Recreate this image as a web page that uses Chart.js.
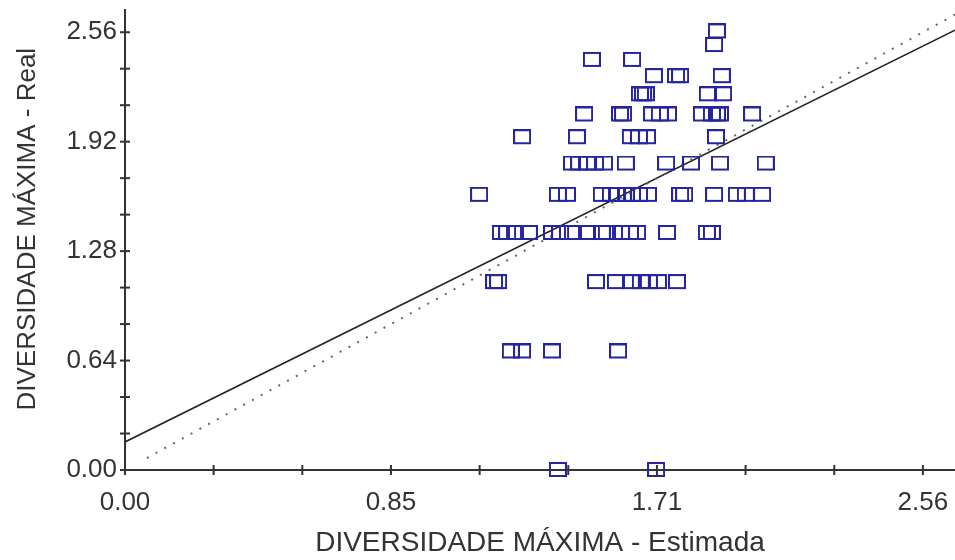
<!DOCTYPE html>
<html>
<head>
<meta charset="utf-8">
<script src="https://cdn.jsdelivr.net/npm/chart.js@4.4.1/dist/chart.umd.min.js"></script>
<style>
  html, body { margin: 0; padding: 0; background: #fff; overflow: hidden; }
  canvas { display: block; }
</style>
</head>
<body>
<canvas id="chart" width="955" height="560"></canvas>
<script>
// observed values: estimated (x) vs real (y) maximum diversity
const estimada = [
  1.899,
  1.890,
  1.498, 1.627,
  1.697, 1.768, 1.781, 1.915,
  1.652, 1.662, 1.671, 1.870, 1.919,
  1.473, 1.588, 1.598, 1.691, 1.716, 1.742, 1.851, 1.883, 1.899, 1.909, 2.012,
  1.274, 1.450, 1.623, 1.649, 1.675, 1.896,
  1.434, 1.457, 1.482, 1.508, 1.537, 1.607, 1.736, 1.816, 1.909, 2.056,
  1.136, 1.389, 1.418, 1.530, 1.559, 1.578, 1.607, 1.627, 1.649, 1.678, 1.781, 1.794, 1.890, 1.963, 1.992, 2.044,
  1.206, 1.226, 1.251, 1.296, 1.370, 1.396, 1.437, 1.482, 1.530, 1.546, 1.591, 1.620, 1.643, 1.739, 1.867, 1.883,
  1.184, 1.197, 1.511, 1.575, 1.623, 1.655, 1.681, 1.710, 1.771,
  1.238, 1.274, 1.370, 1.582,
  1.389, 1.704
];
const real = [
  2.565,
  2.485,
  2.398, 2.398,
  2.303, 2.303, 2.303, 2.303,
  2.197, 2.197, 2.197, 2.197, 2.197,
  2.079, 2.079, 2.079, 2.079, 2.079, 2.079, 2.079, 2.079, 2.079, 2.079, 2.079,
  1.946, 1.946, 1.946, 1.946, 1.946, 1.946,
  1.792, 1.792, 1.792, 1.792, 1.792, 1.792, 1.792, 1.792, 1.792, 1.792,
  1.609, 1.609, 1.609, 1.609, 1.609, 1.609, 1.609, 1.609, 1.609, 1.609, 1.609, 1.609, 1.609, 1.609, 1.609, 1.609,
  1.386, 1.386, 1.386, 1.386, 1.386, 1.386, 1.386, 1.386, 1.386, 1.386, 1.386, 1.386, 1.386, 1.386, 1.386, 1.386,
  1.099, 1.099, 1.099, 1.099, 1.099, 1.099, 1.099, 1.099, 1.099,
  0.693, 0.693, 0.693, 0.693,
  0, 0
];

// fitted regression line and 1:1 line (end points)
const fitX = [0, 2.663];
const fitY = [0.164, 2.572];
const diagX = [0.07, 2.663];
const diagY = [0.07, 2.663];

// axis ticks
const xTicks = [0, 0.2844, 0.5689, 0.8533, 1.1378, 1.4222, 1.7067, 1.9911, 2.2756, 2.56];
const xTickLabels = ['0.00', '', '', '0.85', '', '', '1.71', '', '', '2.56'];
const yTicks = [0, 0.2133, 0.4267, 0.64, 0.8533, 1.0667, 1.28, 1.4933, 1.7067, 1.92, 2.1333, 2.3467, 2.56];
const yTickLabels = ['0.00', '', '', '0.64', '', '', '1.28', '', '', '1.92', '', '', '2.56'];

const FONT = "'Liberation Sans', Arial, sans-serif";
const AXIS = '#333';

// hollow rectangle marker
const box = document.createElement('canvas');
box.width = 18; box.height = 16;
const bctx = box.getContext('2d');
bctx.strokeStyle = '#2525a0';
bctx.lineWidth = 2;
bctx.strokeRect(1, 1, 16, 13);

// tick marks that cross the axis lines
const crossTicks = {
  id: 'crossTicks',
  afterDraw(chart) {
    const { ctx, scales: { x, y } } = chart;
    ctx.save();
    ctx.strokeStyle = AXIS;
    ctx.lineWidth = 2;
    x.ticks.forEach(t => {
      const px = x.getPixelForValue(t.value);
      ctx.beginPath(); ctx.moveTo(px, y.bottom - 5); ctx.lineTo(px, y.bottom + 5); ctx.stroke();
    });
    y.ticks.forEach(t => {
      const py = y.getPixelForValue(t.value);
      ctx.beginPath(); ctx.moveTo(x.left - 5, py); ctx.lineTo(x.left + 5, py); ctx.stroke();
    });
    ctx.restore();
  }
};

const points = estimada.map((v, i) => ({ x: v, y: real[i] }));
const fit = fitX.map((v, i) => ({ x: v, y: fitY[i] }));
const diag = diagX.map((v, i) => ({ x: v, y: diagY[i] }));

new Chart(document.getElementById('chart').getContext('2d'), {
  type: 'scatter',
  data: {
    datasets: [
      { label: 'Observados', data: points, pointStyle: box, pointRadius: 8, clip: false },
      { label: '1:1', data: diag, showLine: true, borderColor: '#666', borderWidth: 2, borderDash: [2, 8], pointRadius: 0 },
      { label: 'Ajuste', data: fit, showLine: true, borderColor: '#222', borderWidth: 1.5, pointRadius: 0 }
    ]
  },
  options: {
    responsive: false,
    animation: false,
    layout: { autoPadding: false, padding: { top: 10, right: 0, left: 0, bottom: 0 } },
    plugins: { legend: { display: false }, tooltip: { enabled: false } },
    scales: {
      x: {
        type: 'linear', min: 0, max: 2.663,
        afterBuildTicks: s => { s.ticks = xTicks.map(v => ({ value: v })); },
        afterFit: s => { s.height = 90; s.paddingLeft = 0; s.paddingRight = 0; },
        ticks: { autoSkip: false, maxRotation: 0, padding: 9, color: AXIS,
          font: { family: FONT, size: 26 }, callback: (v, i) => xTickLabels[i] },
        grid: { display: false },
        border: { display: true, color: AXIS, width: 2 },
        title: { display: true, text: 'DIVERSIDADE MÁXIMA - Estimada', color: AXIS,
          font: { family: FONT, size: 28 }, padding: { top: 0, bottom: 0 } }
      },
      y: {
        type: 'linear', min: 0, max: 2.69,
        afterBuildTicks: s => { s.ticks = yTicks.map(v => ({ value: v })); },
        afterFit: s => { s.width = 125; s.paddingTop = 0; s.paddingBottom = 0; },
        ticks: { autoSkip: false, padding: 0, color: AXIS,
          font: { family: FONT, size: 26 }, callback: (v, i) => yTickLabels[i] },
        grid: { display: false },
        border: { display: true, color: AXIS, width: 2 },
        title: { display: true, text: '   DIVERSIDADE MÁXIMA - Real', color: AXIS,
          font: { family: FONT, size: 26 }, padding: { top: 12, bottom: 0 } }
      }
    }
  },
  plugins: [crossTicks]
});
</script>
</body>
</html>
